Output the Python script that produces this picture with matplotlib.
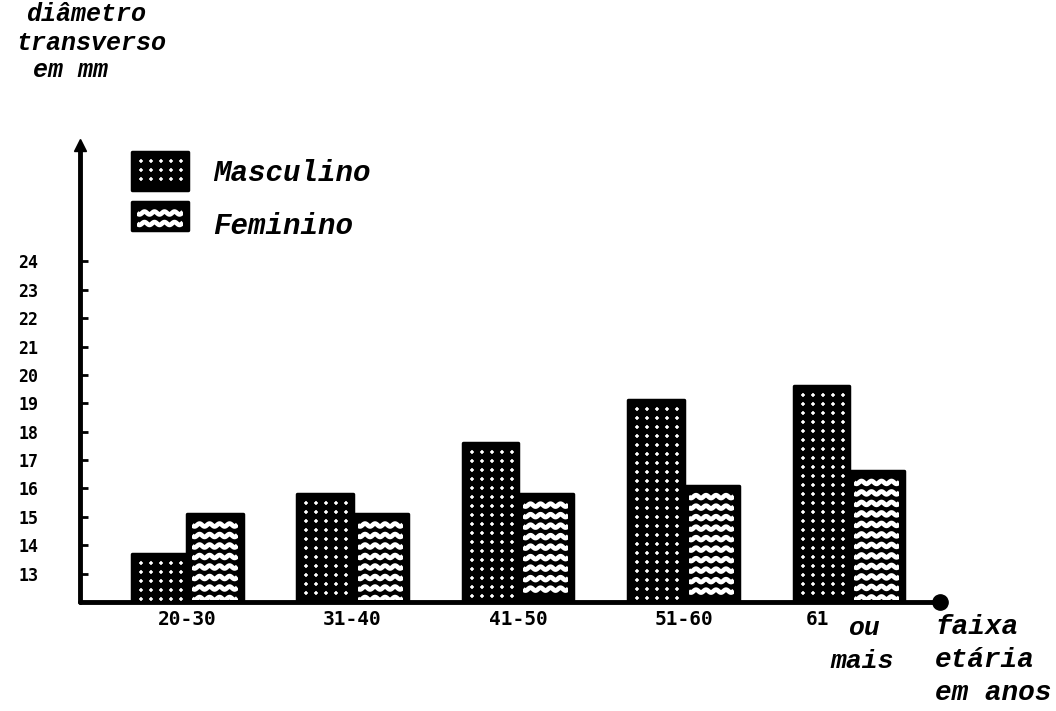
import numpy as np
import matplotlib
matplotlib.use("Agg")
import matplotlib.pyplot as plt
from matplotlib.patches import Rectangle
from matplotlib.transforms import IdentityTransform, ScaledTranslation

# dados
faixas = ["20-30", "31-40", "41-50", "51-60", "61"]
masculino = [13.7, 15.8, 17.6, 19.1, 19.6]
feminino = [15.1, 15.1, 15.8, 16.1, 16.6]
y_ticks = list(range(13, 25))
base = 12

W, H = 1056, 711
fig = plt.figure(figsize=(W / 100, H / 100), dpi=100)
ax = fig.add_axes([80 / W, (H - 602) / H, 860 / W, 457 / H])
ax.set_xlim(-0.647, 4.55)
ax.set_ylim(base, 28.1)

mono_it = dict(family="Liberation Mono", style="italic", weight="bold")
ident = IdentityTransform()

x = np.arange(len(faixas))
bw = 0.335
bars_m = ax.bar(x - bw / 2, np.array(masculino) - base, bw, bottom=base,
                color="black", edgecolor="black", linewidth=2.5, zorder=2)
bars_f = ax.bar(x + bw / 2, np.array(feminino) - base, bw, bottom=base,
                color="black", edgecolor="black", linewidth=2.5, zorder=2)


def px_rect(p):
    (x0, y0), (x1, y1) = ax.transData.transform(
        [(p.get_x(), p.get_y()), (p.get_x() + p.get_width(), p.get_y() + p.get_height())])
    return x0, y0, x1, y1


def dots(x0, y0, x1, y1):
    xs = np.arange(x0 + 9, x1 - 5, 10)
    ys = np.arange(y1 - 9, y0 + 3, -9)
    gx, gy = np.meshgrid(xs, ys)
    ax.plot(gx.ravel(), gy.ravel(), ls="none", marker="+", ms=3.2, mew=1.1,
            color="white", transform=ident, clip_on=False, zorder=3)


def waves(x0, y0, x1, y1):
    clip = Rectangle((x0 + 5, y0 + 2), x1 - x0 - 10, y1 - y0 - 7, transform=ident)
    t = np.linspace(x0 + 5, x1 - 5, 120)
    for yy in np.arange(y1 - 11, y0 + 3, -10.5):
        ln, = ax.plot(t, yy + 1.4 * np.sin((t - x0) / 10.0 * 2 * np.pi), color="white",
                      lw=3.4, transform=ident, zorder=3, solid_capstyle="butt")
        ln.set_clip_path(clip)


for b in bars_m:
    b.set_joinstyle("round")
    dots(*px_rect(b))
for b in bars_f:
    b.set_joinstyle("round")
    waves(*px_rect(b))

# eixos
for s in ["top", "right"]:
    ax.spines[s].set_visible(False)
for s in ["left", "bottom"]:
    ax.spines[s].set_linewidth(3.5)
    ax.spines[s].set_capstyle("round")
ax.plot(0, 1, marker="^", ms=9, color="black", transform=ax.transAxes, clip_on=False)
ax.plot(1, 0, marker="o", ms=11, color="black", transform=ax.transAxes, clip_on=False)

ax.set_yticks(y_ticks)
ax.set_yticklabels([str(v) for v in y_ticks], family="DejaVu Sans Mono", weight="bold", fontsize=12)
ax.tick_params(axis="y", direction="in", length=6, width=2, pad=30)

ax.set_xticks(x)
ax.set_xticklabels(faixas, family="DejaVu Sans Mono", weight="bold", fontsize=14)
ax.tick_params(axis="x", length=0, pad=6)
lab = ax.get_xticklabels()[-1]
lab.set_transform(lab.get_transform() + ScaledTranslation(-0.31, 0, fig.dpi_scale_trans))

# textos
fig.text(848 / W, 1 - 628 / H, "ou", ha="left", va="center", fontsize=19, **mono_it)
fig.text(830 / W, 1 - 661 / H, "mais", ha="left", va="center", fontsize=19, **mono_it)
fig.text(935 / W, 1 - 627 / H, "faixa", ha="left", va="center", fontsize=20, **mono_it)
fig.text(935 / W, 1 - 660 / H, "etária", ha="left", va="center", fontsize=20, **mono_it)
fig.text(935 / W, 1 - 693 / H, "em anos", ha="left", va="center", fontsize=20, **mono_it)

fig.text(26 / W, 1 - 14 / H, "diâmetro", ha="left", va="center", fontsize=18, **mono_it)
fig.text(16 / W, 1 - 43 / H, "transverso", ha="left", va="center", fontsize=18, **mono_it)
fig.text(33 / W, 1 - 70 / H, "em mm", ha="left", va="center", fontsize=18, **mono_it)

# legenda
leg = [("Masculino", (132, 521, 188, 559), dots, 173),
       ("Feminino", (132, 481, 188, 509), waves, 226)]
for nome, (lx0, ly0, lx1, ly1), fill, ty in leg:
    r = Rectangle((lx0, ly0), lx1 - lx0, ly1 - ly0, transform=ident, facecolor="black",
                  edgecolor="black", lw=2.5, joinstyle="round", zorder=2)
    ax.add_patch(r)
    r.set_clip_on(False)
    fill(lx0, ly0, lx1, ly1)
    fig.text(213 / W, 1 - ty / H, nome, ha="left", va="center", fontsize=21, **mono_it)

fig.savefig("out.png", dpi=100)
